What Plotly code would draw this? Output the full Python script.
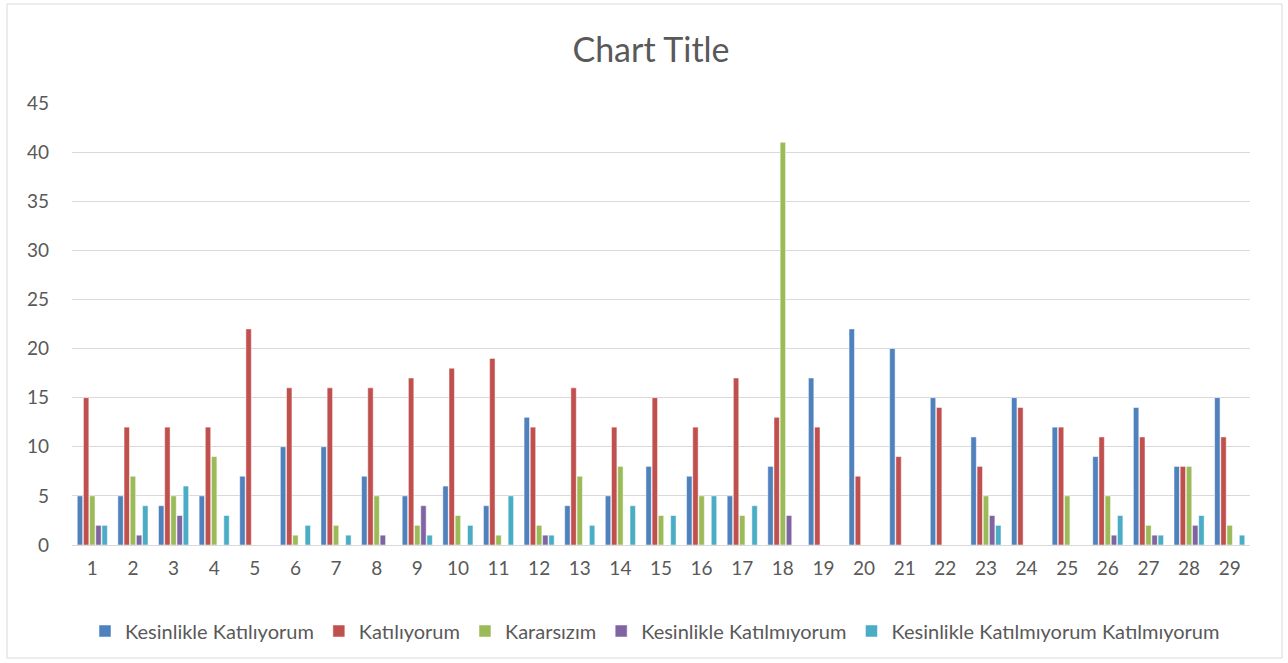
import plotly.graph_objects as go

# question numbers
categories = [str(i) for i in range(1, 30)]

kesinlikle_katiliyorum = [5, 5, 4, 5, 7, 10, 10, 7, 5, 6, 4, 13, 4, 5, 8, 7, 5, 8,
                          17, 22, 20, 15, 11, 15, 12, 9, 14, 8, 15]
katiliyorum = [15, 12, 12, 12, 22, 16, 16, 16, 17, 18, 19, 12, 16, 12, 15, 12, 17, 13,
               12, 7, 9, 14, 8, 14, 12, 11, 11, 8, 11]
kararsizim = [5, 7, 5, 9, 0, 1, 2, 5, 2, 3, 1, 2, 7, 8, 3, 5, 3, 41,
              0, 0, 0, 0, 5, 0, 5, 5, 2, 8, 2]
kesinlikle_katilmiyorum = [2, 1, 3, 0, 0, 0, 0, 1, 4, 0, 0, 1, 0, 0, 0, 0, 0, 3,
                           0, 0, 0, 0, 3, 0, 0, 1, 1, 2, 0]
kesinlikle_katilmiyorum_katilmiyorum = [2, 4, 6, 3, 0, 2, 1, 0, 1, 2, 5, 1, 2, 4, 3, 5, 4, 0,
                                        0, 0, 0, 0, 2, 0, 0, 3, 1, 3, 1]

series = [
    ("Kesinlikle Katılıyorum", kesinlikle_katiliyorum, "#4F81BD"),
    ("Katılıyorum", katiliyorum, "#C0504D"),
    ("Kararsızım", kararsizim, "#9BBB59"),
    ("Kesinlikle Katılmıyorum", kesinlikle_katilmiyorum, "#8064A2"),
    ("Kesinlikle Katılmıyorum Katılmıyorum", kesinlikle_katilmiyorum_katilmiyorum, "#4BACC6"),
]

text_color = "#595959"
font_family = "Lato"

fig = go.Figure()
for name, values, color in series:
    fig.add_trace(go.Bar(
        x=categories,
        y=values,
        name=name,
        marker=dict(color=color, line=dict(color="white", width=0.5)),
    ))

# plot area in pixels: left 72, right 1250, top 103, bottom 545
W, H = 1288, 663
ml, mr, mt, mb = 72, 38, 103, 118
pw, ph = W - ml - mr, H - mt - mb

fig.update_layout(
    width=W,
    height=H,
    margin=dict(l=ml, r=mr, t=mt, b=mb),
    paper_bgcolor="white",
    plot_bgcolor="white",
    barmode="group",
    bargap=0.24,
    bargroupgap=0.12,
    font=dict(family=font_family, color=text_color, size=19),
    title=dict(
        text="Chart Title",
        x=651 / W,
        xanchor="center",
        y=1 - 50 / H,
        yanchor="middle",
        font=dict(size=34, color=text_color, family=font_family),
    ),
    xaxis=dict(
        type="category",
        showgrid=False,
        showline=False,
        ticks="",
        ticklabelstandoff=10,
        tickfont=dict(size=19, color=text_color),
    ),
    yaxis=dict(
        range=[0, 45],
        dtick=5,
        showgrid=True,
        gridcolor="#D9D9D9",
        gridwidth=1,
        zeroline=True,
        zerolinecolor="#D9D9D9",
        zerolinewidth=1,
        showline=False,
        ticks="",
        ticklabelstandoff=22,
        tickfont=dict(size=19, color=text_color),
    ),
    legend=dict(
        orientation="h",
        x=(655 - ml) / pw,
        xanchor="center",
        y=(545 - 631) / ph,
        yanchor="middle",
        font=dict(size=20, color=text_color),
        itemwidth=30,
        traceorder="normal",
    ),
    shapes=[dict(
        type="rect",
        xref="paper",
        yref="paper",
        x0=(7 - ml) / pw,
        x1=(1282 - ml) / pw,
        y0=(545 - 658) / ph,
        y1=(545 - 4) / ph,
        line=dict(color="#D9D9D9", width=1),
        layer="below",
    )],
)

# drop the default page margin so the figure sits at the window's corner
fig.write_html(
    "out.html",
    config={"displayModeBar": False},
    post_script="document.body.style.margin='0';",
)
